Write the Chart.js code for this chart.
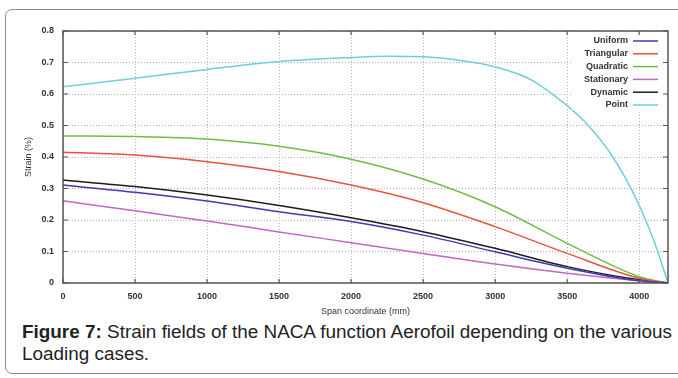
<!DOCTYPE html>
<html>
<head>
<meta charset="utf-8">
<script src="https://cdn.jsdelivr.net/npm/chart.js@4.4.1/dist/chart.umd.min.js"></script>
<style>
	body { margin: 0; background: #fff; width: 678px; height: 378px; overflow: hidden; position: relative; }
	.frame { position: absolute; left: 5px; top: 9px; width: 700px; height: 363px; border: 1px solid #8a8a8a; border-radius: 7px; }
	.chart-box { position: absolute; left: 0; top: 0; width: 678px; height: 320px; }
	.caption { position: absolute; left: 22px; top: 321px; font-family: "Liberation Sans", Arial, sans-serif; font-size: 18.9px; line-height: 22px; color: #222; white-space: nowrap; }
</style>
</head>
<body>
<div class="frame"></div>
<div class="chart-box"><canvas class="chart-strain"></canvas></div>
<div class="caption"><b>Figure 7:</b> Strain fields of the NACA function Aerofoil depending on the various<br>Loading cases.</div>
<script>
// span coordinate (mm) for the five smooth load cases
const span = [0, 500, 1000, 1500, 2000, 2500, 3000, 3500, 4000, 4200];
const uniform = [0.311, 0.288, 0.260, 0.226, 0.195, 0.152, 0.099, 0.047, 0.007, 0];
const triangular = [0.415, 0.406, 0.385, 0.354, 0.311, 0.255, 0.179, 0.094, 0.015, 0];
const quadratic = [0.467, 0.465, 0.457, 0.434, 0.393, 0.330, 0.242, 0.126, 0.020, 0];
const stationary = [0.261, 0.229, 0.197, 0.162, 0.128, 0.094, 0.060, 0.031, 0.007, 0];
const dynamic = [0.327, 0.306, 0.279, 0.246, 0.207, 0.163, 0.110, 0.052, 0.010, 0];

// point load needs more samples near the tip
const pointSpan = [0, 500, 1000, 1500, 2000, 2250, 2500, 2750, 3000, 3250, 3500, 3600, 3700, 3800, 3900, 4000, 4100, 4200];
const pointStrain = [0.623, 0.650, 0.678, 0.703, 0.716, 0.720, 0.718, 0.707, 0.686, 0.645, 0.563, 0.522, 0.472, 0.412, 0.337, 0.247, 0.137, 0];

const seriesNames = ["Uniform", "Triangular", "Quadratic", "Stationary", "Dynamic", "Point"];
const lineColours = ["#3c3cb4", "#e8523e", "#6cbf46", "#c466c8", "#1c1c1c", "#6ccfda"];

const xTicks = [0, 500, 1000, 1500, 2000, 2500, 3000, 3500, 4000];
const yTicks = [0, 0.1, 0.2, 0.3, 0.4, 0.5, 0.6, 0.7, 0.8];

const tickFont = { family: "Liberation Sans", size: 9, weight: "bold" };

function toPoints(xs, ys) {
	return xs.map((x, i) => ({ x: x, y: ys[i] }));
}

const allSeries = [
	toPoints(span, uniform),
	toPoints(span, triangular),
	toPoints(span, quadratic),
	toPoints(span, stationary),
	toPoints(span, dynamic),
	toPoints(pointSpan, pointStrain),
];

// gnuplot style key: right aligned label, sample line on the right, opaque box
const keyPlugin = {
	id: "key",
	afterDatasetsDraw(chart) {
		const ctx = chart.ctx;
		ctx.save();
		ctx.fillStyle = "#fff";
		ctx.fillRect(572, 32, 95, 78);
		ctx.font = "bold 9px 'Liberation Sans'";
		ctx.textAlign = "right";
		ctx.textBaseline = "middle";
		chart.data.datasets.forEach((ds, i) => {
			const y = 41 + i * 12.8;
			ctx.fillStyle = "#333";
			ctx.fillText(ds.label, 628, y);
			ctx.strokeStyle = ds.borderColor;
			ctx.lineWidth = 1.5;
			ctx.beginPath();
			ctx.moveTo(633, y);
			ctx.lineTo(658, y);
			ctx.stroke();
		});
		ctx.restore();
	},
};

// plot border with inward ticks on all four sides
const framePlugin = {
	id: "frame",
	afterDraw(chart) {
		const { ctx, chartArea: a, scales } = chart;
		ctx.save();
		ctx.strokeStyle = "#555";
		ctx.lineWidth = 1.5;
		ctx.strokeRect(a.left, a.top, a.right - a.left, a.bottom - a.top);
		ctx.lineWidth = 1.2;
		ctx.beginPath();
		xTicks.forEach((v) => {
			const x = scales.x.getPixelForValue(v);
			ctx.moveTo(x, a.bottom);
			ctx.lineTo(x, a.bottom - 4);
			ctx.moveTo(x, a.top);
			ctx.lineTo(x, a.top + 4);
		});
		yTicks.forEach((v) => {
			const y = scales.y.getPixelForValue(v);
			ctx.moveTo(a.left, y);
			ctx.lineTo(a.left + 5, y);
			ctx.moveTo(a.right, y);
			ctx.lineTo(a.right - 5, y);
		});
		ctx.stroke();
		ctx.restore();
	},
};

const chartStrain = document.querySelector(".chart-strain");

new Chart(chartStrain, {
	type: "line",
	data: {
		datasets: allSeries.map((pts, i) => ({
			label: seriesNames[i],
			data: pts,
			borderColor: lineColours[i],
			backgroundColor: lineColours[i],
			borderWidth: 1.5,
			pointRadius: 0,
			cubicInterpolationMode: "monotone",
			fill: false,
		})),
	},
	options: {
		responsive: true,
		maintainAspectRatio: false,
		animation: false,
		layout: { padding: { left: 0, top: 31, right: 10, bottom: 0 } },
		plugins: {
			legend: { display: false },
			tooltip: { enabled: false },
		},
		scales: {
			x: {
				type: "linear",
				min: 0,
				max: 4200,
				afterBuildTicks: (scale) => {
					scale.ticks = xTicks.map((v) => ({ value: v }));
				},
				afterFit: (scale) => {
					scale.height = 37;
				},
				grid: { color: "#b4b4b4", drawTicks: false, lineWidth: 1 },
				border: { display: false, dash: [1, 2] },
				ticks: {
					font: tickFont,
					color: "#333",
					padding: 8,
					maxRotation: 0,
					callback: (v) => String(v),
				},
				title: {
					display: true,
					text: "Span coordinate (mm)",
					font: { family: "Liberation Sans", size: 9 },
					color: "#333",
					padding: { top: 0, bottom: 3 },
				},
			},
			y: {
				min: 0,
				max: 0.8,
				afterBuildTicks: (scale) => {
					scale.ticks = yTicks.map((v) => ({ value: v }));
				},
				afterFit: (scale) => {
					scale.width = 63;
				},
				grid: { color: "#b4b4b4", drawTicks: false, lineWidth: 1 },
				border: { display: false, dash: [1, 2] },
				ticks: {
					font: tickFont,
					color: "#333",
					padding: 9,
					callback: (v) => String(Math.round(v * 10) / 10),
				},
				title: {
					display: true,
					text: "Strain (%)",
					font: { family: "Liberation Sans", size: 9 },
					color: "#333",
					padding: { top: 23, bottom: 0 },
				},
			},
		},
	},
	plugins: [keyPlugin, framePlugin],
});
</script>
</body>
</html>
